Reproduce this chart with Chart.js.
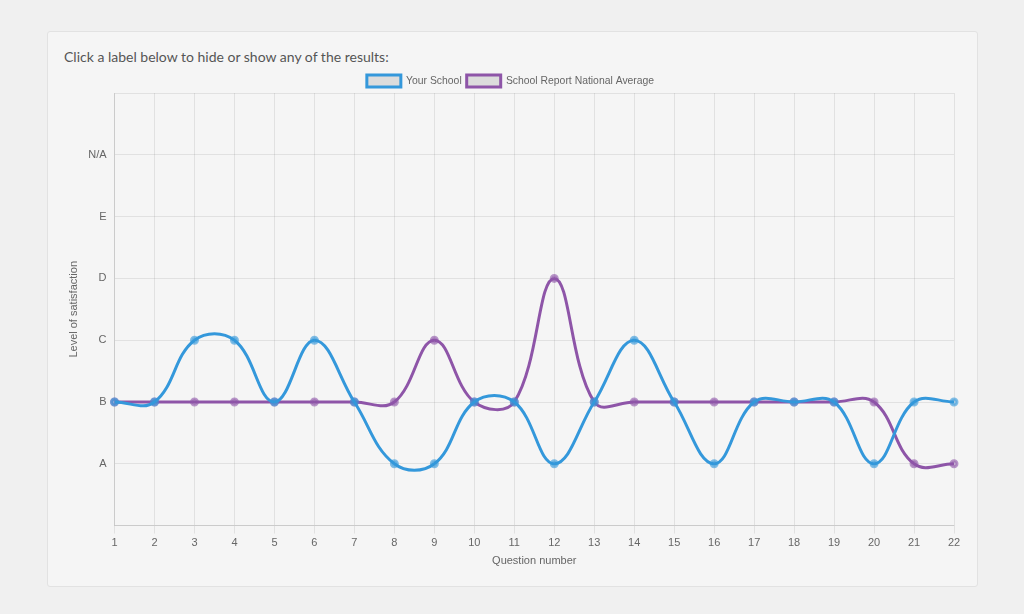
<!DOCTYPE html>
<html>
<head>
<meta charset="utf-8">
<script src="https://cdn.jsdelivr.net/npm/chart.js@4/dist/chart.umd.min.js"></script>
<style>
  html, body { margin: 0; padding: 0; background: #f0f0f0; }
  body { width: 1024px; height: 614px; position: relative; overflow: hidden; }
  .panel {
    position: absolute; left: 47px; top: 31px; width: 929px; height: 554px;
    background: #f5f5f5; border: 1px solid #e2e2e2; border-radius: 3px;
  }
  .intro {
    position: absolute; left: 64px; top: 48px; margin: 0;
    font-family: Lato, "Open Sans", sans-serif; font-size: 14px; color: #555;
  }
  .chart-box { position: absolute; left: 67px; top: 70px; width: 903px; height: 502px; }
</style>
</head>
<body>
<div class="panel"></div>
<p class="intro">Click a label below to hide or show any of the results:</p>
<div class="chart-box"><canvas id="satisfactionChart"></canvas></div>
<script>
const questions = ['1','2','3','4','5','6','7','8','9','10','11','12','13','14','15','16','17','18','19','20','21','22'];
const levelLabels = ['', 'A', 'B', 'C', 'D', 'E', 'N/A', ''];

// 1 = A, 2 = B, 3 = C, 4 = D, 5 = E, 6 = N/A
const yourSchool      = [2,2,3,3,2,3,2,1,1,2,2,1,2,3,2,1,2,2,2,1,2,2];
const nationalAverage = [2,2,2,2,2,2,2,2,3,2,2,4,2,2,2,2,2,2,2,2,1,1];

const tickFont = { family: 'Liberation Sans, Arial, sans-serif', size: 11 };
const legendFont = { family: 'Liberation Sans, Arial, sans-serif', size: 10.4 };

// pull the plot area a little closer to the legend
const tightLegend = {
  id: 'tightLegend',
  beforeInit(chart) {
    const fit = chart.legend.fit;
    chart.legend.fit = function () { fit.call(this); this.height -= 4; };
  }
};

new Chart(document.getElementById('satisfactionChart'), {
  type: 'line',
  data: {
    labels: questions,
    datasets: [
      {
        label: 'Your School',
        data: yourSchool,
        borderColor: '#3498db',
        backgroundColor: 'rgba(220,220,220,0.9)',
        pointBackgroundColor: 'rgba(52,152,219,0.35)',
        pointBorderColor: 'rgba(52,152,219,0.6)',
        borderWidth: 3,
        pointRadius: 3,
        tension: 0.4,
        fill: false
      },
      {
        label: 'School Report National Average',
        data: nationalAverage,
        borderColor: '#8e55a8',
        backgroundColor: 'rgba(220,220,220,0.9)',
        pointBackgroundColor: 'rgba(142,85,168,0.35)',
        pointBorderColor: 'rgba(142,85,168,0.6)',
        borderWidth: 3,
        pointRadius: 3,
        tension: 0.4,
        fill: false
      }
    ]
  },
  plugins: [tightLegend],
  options: {
    responsive: true,
    maintainAspectRatio: false,
    animation: false,
    layout: { padding: { right: 16 } },
    plugins: {
      legend: {
        labels: {
          boxWidth: 34, boxHeight: 12, padding: 5, color: '#666', font: legendFont,
          generateLabels: chart => chart.data.datasets.map((d, i) => ({
            text: d.label, fillStyle: 'rgba(220,220,220,1)', strokeStyle: d.borderColor,
            lineWidth: 3, fontColor: '#666', datasetIndex: i, hidden: false
          }))
        }
      },
      tooltip: { enabled: false }
    },
    scales: {
      x: {
        grid: { color: 'rgba(0,0,0,0.08)' },
        ticks: { color: '#666', font: tickFont, maxRotation: 0 },
        title: { display: true, text: 'Question number', color: '#666', font: tickFont, padding: { top: 2, bottom: 4 } }
      },
      y: {
        min: 0, max: 7,
        grid: { color: 'rgba(0,0,0,0.08)', drawTicks: false },
        ticks: {
          stepSize: 1, color: '#666', font: tickFont, padding: 8,
          callback: v => levelLabels[v]
        },
        title: { display: true, text: 'Level of satisfaction', color: '#666', font: tickFont, padding: 0 }
      }
    }
  }
});
</script>
</body>
</html>
